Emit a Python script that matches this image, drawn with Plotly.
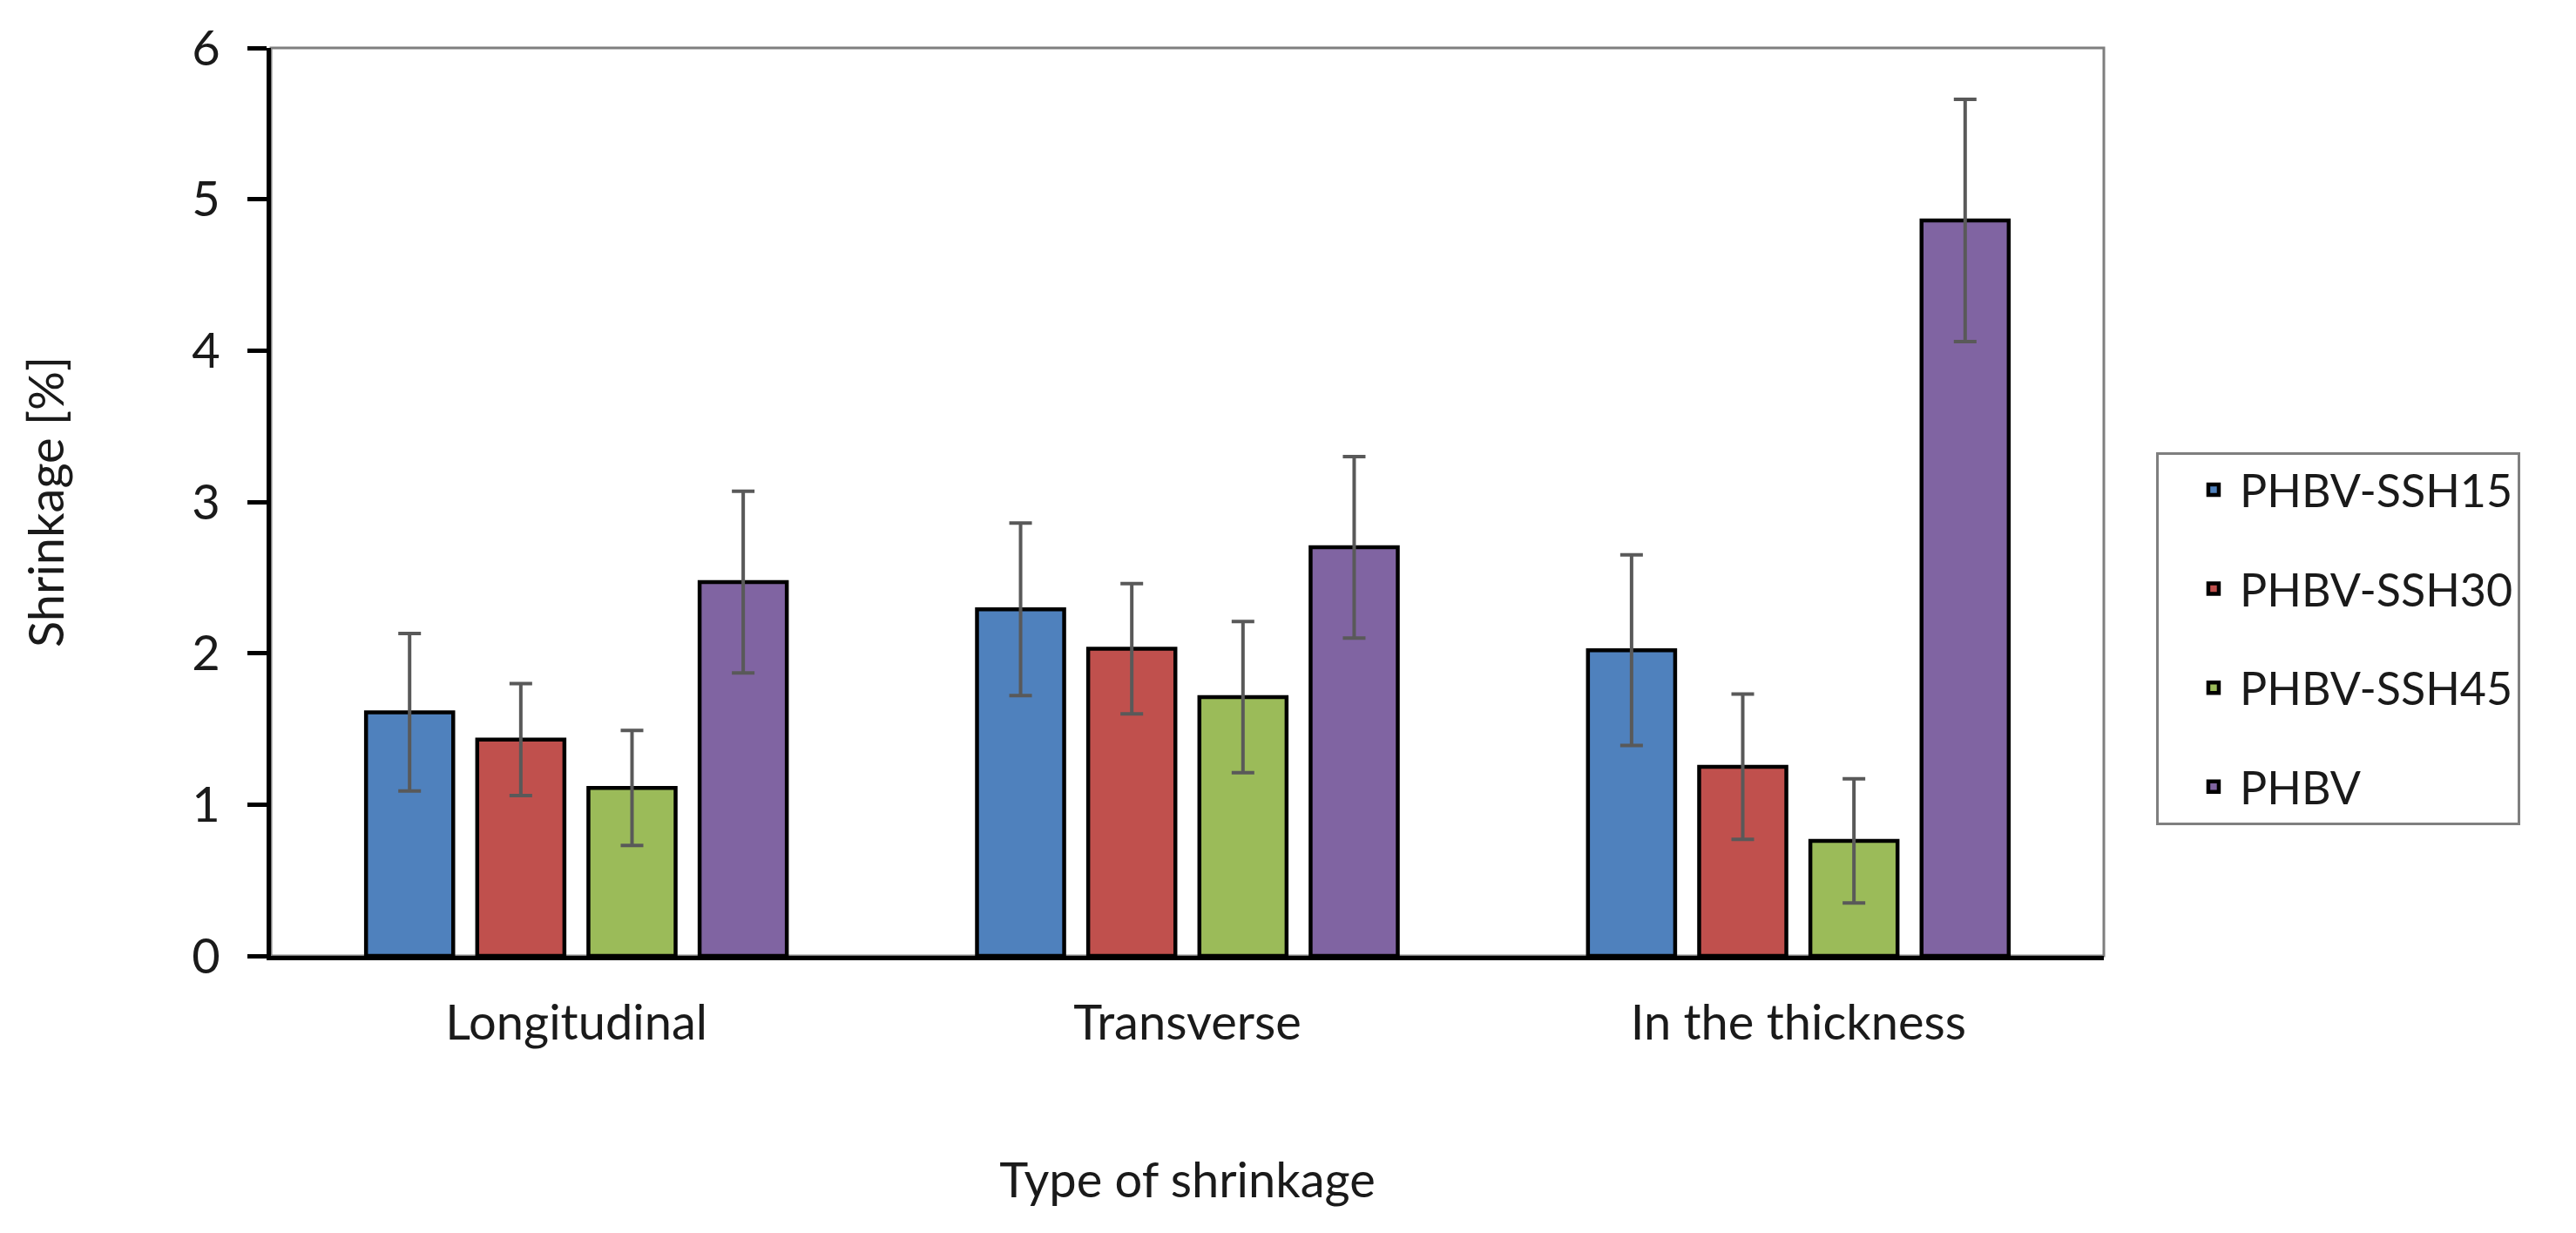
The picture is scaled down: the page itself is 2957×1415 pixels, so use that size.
import plotly.graph_objects as go

categories = ["Longitudinal", "Transverse", "In the thickness"]
series_names = ["PHBV-SSH15", "PHBV-SSH30", "PHBV-SSH45", "PHBV"]
values_ssh15 = [1.61, 2.29, 2.02]
values_ssh30 = [1.43, 2.03, 1.25]
values_ssh45 = [1.11, 1.71, 0.76]
values_phbv = [2.47, 2.70, 4.86]
errors_ssh15 = [0.52, 0.57, 0.63]
errors_ssh30 = [0.37, 0.43, 0.48]
errors_ssh45 = [0.38, 0.50, 0.41]
errors_phbv = [0.60, 0.60, 0.80]
y_ticks = [0, 1, 2, 3, 4, 5, 6]

colors = ["#4F81BD", "#C0504D", "#9BBB59", "#8064A2"]
all_values = [values_ssh15, values_ssh30, values_ssh45, values_phbv]
all_errors = [errors_ssh15, errors_ssh30, errors_ssh45, errors_phbv]

FONT = "Lato"
FS = 56
TXT = "#1a1a1a"

fig = go.Figure()
for name, vals, errs, col in zip(series_names, all_values, all_errors, colors):
    fig.add_trace(go.Bar(
        name=name,
        x=categories,
        y=vals,
        legendgroup=name,
        marker=dict(color=col, line=dict(color="#000000", width=4.5)),
        error_y=dict(type="data", array=errs, visible=True,
                     color="#595959", thickness=4, width=13),
    ))

fig.update_layout(
    width=2957,
    height=1415,
    margin=dict(l=303, r=550, t=44, b=326),
    paper_bgcolor="white",
    plot_bgcolor="white",
    barmode="group",
    bargap=0.272,
    bargroupgap=0.216,
    font=dict(family=FONT, size=FS, color=TXT),
    showlegend=True,
    legend=dict(
        x=1.0285, y=0.555, xanchor="left", yanchor="top",
        bordercolor="#7f7f7f", borderwidth=3,
        bgcolor="white",
        font=dict(family=FONT, size=52, color=TXT),
        tracegroupgap=43,
        itemwidth=50,
        indentation=33,
    ),
    shapes=[dict(type="rect", xref="paper", yref="paper", x0=0, x1=1, y0=0, y1=1,
                 line=dict(color="#7f7f7f", width=3), layer="below")],
)

fig.update_xaxes(
    type="category",
    showline=True, linecolor="#000000", linewidth=5,
    ticks="", showgrid=False, zeroline=False,
    ticklabelstandoff=24,
    tickfont=dict(family=FONT, size=FS, color=TXT),
    title=dict(text="Type of shrinkage", standoff=132,
               font=dict(family=FONT, size=FS, color=TXT)),
)
fig.update_yaxes(
    range=[0, 6],
    tickmode="array", tickvals=y_ticks, ticktext=[str(v) for v in y_ticks],
    showline=True, linecolor="#000000", linewidth=5,
    ticks="outside", ticklen=22, tickwidth=5, tickcolor="#000000",
    showgrid=False, zeroline=False,
    ticklabelstandoff=20,
    tickfont=dict(family=FONT, size=FS, color=TXT),
    title=dict(text="Shrinkage [%]", standoff=130,
               font=dict(family=FONT, size=FS, color=TXT)),
)

fig.write_html("out.html")
